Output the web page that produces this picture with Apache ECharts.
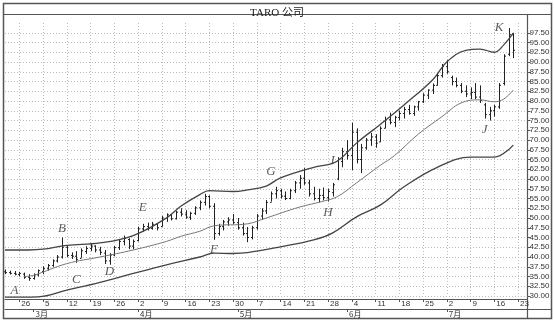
<!DOCTYPE html>
<html><head><meta charset="utf-8">
<script src="https://cdn.jsdelivr.net/npm/echarts@6/dist/echarts.min.js"></script>
<style>html,body{margin:0;padding:0;background:#fff}#c{width:554px;height:321px}</style>
</head><body><div id="c"></div>
<script>
// Trading days (weekdays) 2001-02-21 .. 2001-07-25
const categories = ['2/21','2/22','2/23',
'2/26','2/27','2/28','3/1','3/2',
'3/5','3/6','3/7','3/8','3/9',
'3/12','3/13','3/14','3/15','3/16',
'3/19','3/20','3/21','3/22','3/23',
'3/26','3/27','3/28','3/29','3/30',
'4/2','4/3','4/4','4/5','4/6',
'4/9','4/10','4/11','4/12','4/13',
'4/16','4/17','4/18','4/19','4/20',
'4/23','4/24','4/25','4/26','4/27',
'4/30','5/1','5/2','5/3','5/4',
'5/7','5/8','5/9','5/10','5/11',
'5/14','5/15','5/16','5/17','5/18',
'5/21','5/22','5/23','5/24','5/25',
'5/28','5/29','5/30','5/31','6/1',
'6/4','6/5','6/6','6/7','6/8',
'6/11','6/12','6/13','6/14','6/15',
'6/18','6/19','6/20','6/21','6/22',
'6/25','6/26','6/27','6/28','6/29',
'7/2','7/3','7/4','7/5','7/6',
'7/9','7/10','7/11','7/12','7/13',
'7/16','7/17','7/18','7/19','7/20',
'7/23','7/24','7/25'];

// Weekly tick labels (Mondays)
const weekTicks = ['2/26','3/5','3/12','3/19','3/26','4/2','4/9','4/16','4/23','4/30','5/7','5/14','5/21','5/28','6/4','6/11','6/18','6/25','7/2','7/9','7/16','7/23'];
const weekLabels = ['26','5','12','19','26','2','9','16','23','30','7','14','21','28','4','11','18','25','2','9','16','23'];
// Month tick labels
const monthTicks = ['3/1','4/2','5/1','6/1','7/2'];
const monthLabels = ['3月','4月','5月','6月','7月'];

// OHLC, one value per trading day from 2/21
const opens  = [36.2,36.0,35.8,35.5,35.6,34.8,34.5,35.4,36.3,37.0,37.8,39.0,40.0,42.5,40.4,40.2,39.6,41.4,42.2,42.8,41.8,41.0,39.0,40.5,42.4,44.0,44.5,42.8,44.2,47.2,47.8,47.3,48.4,47.8,50.0,50.8,49.8,51.5,51.0,50.2,51.2,52.6,54.0,55.5,53.0,46.0,47.8,49.0,49.5,48.8,47.5,46.0,45.0,47.5,50.5,51.8,54.0,56.2,57.0,55.6,55.0,57.0,59.0,60.2,59.0,56.2,55.0,55.8,55.2,56.5,60.0,64.5,67.0,66.0,72.0,65.0,68.0,70.0,70.8,69.5,73.0,75.2,74.5,75.8,76.8,77.8,76.8,78.5,79.8,81.5,82.8,84.0,86.5,88.8,86.0,85.0,84.0,82.5,81.8,82.2,81.0,79.0,76.5,77.5,78.5,84.5,92.0,97.0];
const highs  = [36.8,36.5,36.4,36.2,36.0,35.6,35.8,36.8,37.6,38.2,39.4,40.5,45.0,42.8,41.2,41.5,42.2,42.8,43.6,43.0,42.6,41.8,41.0,42.8,44.6,45.5,44.8,44.5,47.8,48.5,48.8,49.0,48.6,50.5,51.2,51.0,51.8,52.5,52.0,51.6,53.0,54.5,56.2,55.8,53.8,48.5,49.5,50.2,51.0,50.0,48.8,47.7,48.0,51.0,52.5,54.6,56.8,58.0,57.5,56.8,57.5,59.5,61.0,62.8,59.8,58.0,57.5,57.8,57.5,59.0,65.6,68.0,70.0,74.4,73.0,69.0,70.5,71.8,71.5,73.5,76.0,77.0,76.2,77.5,78.5,79.0,78.8,80.0,82.0,83.0,84.5,87.0,89.5,90.5,86.5,86.0,84.6,84.0,83.5,84.6,84.0,79.5,78.5,79.0,84.6,92.0,98.7,97.5];
const lows   = [35.6,35.5,35.3,35.0,34.4,33.9,34.2,35.0,35.6,36.5,37.5,38.6,39.6,40.0,39.5,38.5,39.8,40.8,41.5,41.2,40.5,38.2,38.0,40.2,41.8,43.0,42.0,42.0,44.0,46.5,46.8,47.0,46.8,47.8,49.0,49.4,49.6,50.4,49.8,49.5,50.8,52.0,53.2,52.5,44.4,45.5,46.8,48.0,48.5,47.0,45.5,43.8,44.5,47.0,49.5,51.0,54.2,55.0,55.0,54.6,54.8,56.4,57.5,58.5,55.5,54.5,54.0,54.5,54.2,55.5,59.7,63.0,65.0,62.3,64.0,61.5,67.5,68.5,68.0,69.5,73.0,74.0,73.3,75.0,75.5,76.5,76.2,77.5,79.5,80.5,81.8,84.0,86.0,87.0,84.0,83.5,82.0,81.0,80.5,80.5,79.5,75.5,75.0,76.0,78.0,84.0,91.5,91.0];
const closes = [36.0,35.8,35.6,35.8,34.8,34.5,35.4,36.5,37.0,37.8,39.0,40.0,42.5,40.4,40.2,39.4,41.6,42.2,42.8,41.8,41.2,39.0,40.5,42.4,44.0,44.8,42.8,44.0,47.2,47.8,47.3,48.4,47.5,50.0,50.8,49.8,51.5,51.0,50.2,51.2,52.6,54.0,55.5,53.0,46.0,47.8,49.0,49.5,48.8,47.5,46.0,45.0,47.5,50.5,51.8,54.0,56.2,57.0,55.6,55.0,57.0,59.0,60.2,59.0,56.2,55.0,55.8,55.2,56.8,58.5,65.0,67.0,66.0,72.0,65.0,68.0,70.0,70.8,69.2,73.0,75.2,74.5,75.8,76.8,77.8,76.8,78.5,79.8,81.5,82.8,84.0,86.5,88.8,87.5,85.0,84.0,82.5,81.8,82.2,81.0,80.2,76.5,77.5,78.5,84.0,91.5,97.0,93.0];

// Envelope lines: [date, value]
const upperBand = [['2/21',41.8],['2/28',41.8],['3/5',42.0],['3/12',43.0],['3/21',43.6],['3/30',45.5],['4/10',50.0],['4/13',53.0],['4/19',56.0],['4/23',57.0],['4/30',56.8],['5/3',57.2],['5/9',58.2],['5/14',60.3],['5/23',63.0],['5/29',64.0],['5/31',65.6],['6/5',69.2],['6/12',74.0],['6/19',79.0],['6/27',85.4],['7/2',90.0],['7/6',93.0],['7/11',93.3],['7/16',92.5],['7/18',94.4],['7/20',97.4]];
const middleBand = [['2/27',35.0],['3/1',35.3],['3/12',38.3],['3/21',40.0],['3/30',41.8],['4/10',44.0],['4/13',45.3],['4/19',46.6],['4/24',48.0],['5/3',48.5],['5/9',50.0],['5/18',52.8],['5/25',54.3],['5/30',55.5],['6/5',59.0],['6/12',63.5],['6/15',66.0],['6/22',71.5],['6/29',76.0],['7/5',79.5],['7/11',80.3],['7/16',79.8],['7/18',80.5],['7/20',82.8]];
const lowerBand = [['2/21',29.7],['3/2',29.8],['3/12',31.5],['3/21',33.5],['3/30',35.8],['4/10',38.0],['4/19',40.0],['4/24',41.0],['4/30',40.9],['5/3',41.1],['5/14',42.6],['5/23',44.4],['5/29',46.2],['6/5',50.3],['6/12',53.3],['6/19',58.0],['6/28',63.0],['7/9',65.6],['7/16',65.6],['7/20',68.7]];

// Letter annotations: [date, value, letter]
const notes = [['2/23',31.5,'A'],['3/9',47.4,'B'],['3/14',34.1,'C'],['3/23',36.2,'D'],['4/3',52.6,'E'],['4/24',41.8,'F'],['5/10',61.8,'G'],['5/28',51.5,'H'],['5/29',64.6,'I'],['7/12',72.6,'J'],['7/17',98.7,'K']];

const ohlcData = opens.map((o, i) => [i, o, highs[i], lows[i], closes[i]]);
const wk = new Set(weekTicks);
const mo = new Set(monthTicks);
const sans = "'Liberation Sans Narrow','Liberation Sans',Arial,sans-serif";

const chart = echarts.init(document.getElementById('c'), null, {renderer: 'canvas'});
chart.setOption({
  animation: false,
  backgroundColor: '#fff',
  title: {text: 'TARO 公司', left: 'center', top: 3,
    textStyle: {fontSize: 11, fontWeight: 'normal', color: '#222', fontFamily: "'Liberation Serif','Noto Sans CJK SC',serif"}},
  grid: {left: 5, right: 26.5, top: 23, bottom: 25, containLabel: false},
  xAxis: [{
    type: 'category', data: categories, boundaryGap: false, position: 'bottom', offset: 3,
    axisLine: {show: true, lineStyle: {color: '#555', width: 1}},
    axisTick: {show: true, length: 3, interval: (i, v) => wk.has(v), lineStyle: {color: '#555'}},
    axisLabel: {interval: (i, v) => wk.has(v), formatter: v => weekLabels[weekTicks.indexOf(v)] || '',
      align: 'left', margin: 1, padding: [0, 0, 0, 2], fontSize: 8, color: '#333', fontFamily: sans},
    splitLine: {show: true, interval: (i, v) => wk.has(v), lineStyle: {type: [1, 2], color: '#bbb', width: 1}}
  }, {
    type: 'category', data: categories, boundaryGap: false, position: 'bottom', offset: 13,
    axisLine: {show: true, lineStyle: {color: '#555', width: 1}},
    axisTick: {show: true, length: 3, interval: (i, v) => mo.has(v), lineStyle: {color: '#555'}},
    axisLabel: {interval: (i, v) => mo.has(v), formatter: v => monthLabels[monthTicks.indexOf(v)] || '',
      align: 'left', margin: 1, padding: [0, 0, 0, 2], fontSize: 8, color: '#333', fontFamily: "'Noto Sans CJK SC',sans-serif"},
    splitLine: {show: false}
  }],
  yAxis: {
    type: 'value', position: 'right', min: 30, max: 100, interval: 2.5,
    axisLine: {show: true, lineStyle: {color: '#555'}},
    axisTick: {show: true, length: 3, lineStyle: {color: '#555'}},
    axisLabel: {formatter: v => v.toFixed(2), fontSize: 8, margin: 2, color: '#333', fontFamily: sans, showMaxLabel: false},
    splitLine: {show: true, showMaxLine: false, lineStyle: {type: [1, 2], color: '#bbb', width: 1}}
  },
  series: [{
    type: 'line', data: upperBand, symbol: 'none', smooth: 0.4, clip: false,
    lineStyle: {color: '#444', width: 1.3}
  }, {
    type: 'line', data: middleBand, symbol: 'none', smooth: 0.4, clip: false,
    lineStyle: {color: '#777', width: 1}
  }, {
    type: 'line', data: lowerBand, symbol: 'none', smooth: 0.4, clip: false,
    lineStyle: {color: '#444', width: 1.3}
  }, {
    type: 'custom', data: ohlcData, encode: {x: 0, y: [1, 2, 3, 4]},
    renderItem: (params, api) => {
      const i = api.value(0);
      const hi = api.coord([i, api.value(2)]);
      const lo = api.coord([i, api.value(3)]);
      const op = api.coord([i, api.value(1)]);
      const cl = api.coord([i, api.value(4)]);
      const st = {stroke: '#222', lineWidth: 1};
      const x = Math.round(hi[0]) + 0.5;
      return {type: 'group', children: [
        {type: 'line', shape: {x1: x, y1: hi[1], x2: x, y2: lo[1]}, style: st},
        {type: 'line', shape: {x1: x - 1.5, y1: op[1], x2: x, y2: op[1]}, style: st},
        {type: 'line', shape: {x1: x, y1: cl[1], x2: x + 1.5, y2: cl[1]}, style: st}
      ]};
    }
  }, {
    type: 'scatter', data: notes, symbolSize: 0,
    label: {show: true, position: 'inside', formatter: p => p.data[2], fontSize: 13, fontStyle: 'italic',
      color: '#333', fontFamily: "'Liberation Serif','Times New Roman',serif"}
  }],
  graphic: [
    {type: 'rect', shape: {x: 3.5, y: 3.5, width: 548, height: 315}, style: {fill: 'none', stroke: '#555', lineWidth: 1.5}, silent: true},
    {type: 'line', shape: {x1: 3.5, y1: 14.5, x2: 551.5, y2: 14.5}, style: {stroke: '#555', lineWidth: 1.2}, silent: true},
    {type: 'line', shape: {x1: 527.5, y1: 14.5, x2: 527.5, y2: 318.5}, style: {stroke: '#555', lineWidth: 1.2}, silent: true},
    {type: 'line', shape: {x1: 527.5, y1: 309.5, x2: 551.5, y2: 309.5}, style: {stroke: '#555', lineWidth: 1}, silent: true}
  ]
});
</script></body></html>
